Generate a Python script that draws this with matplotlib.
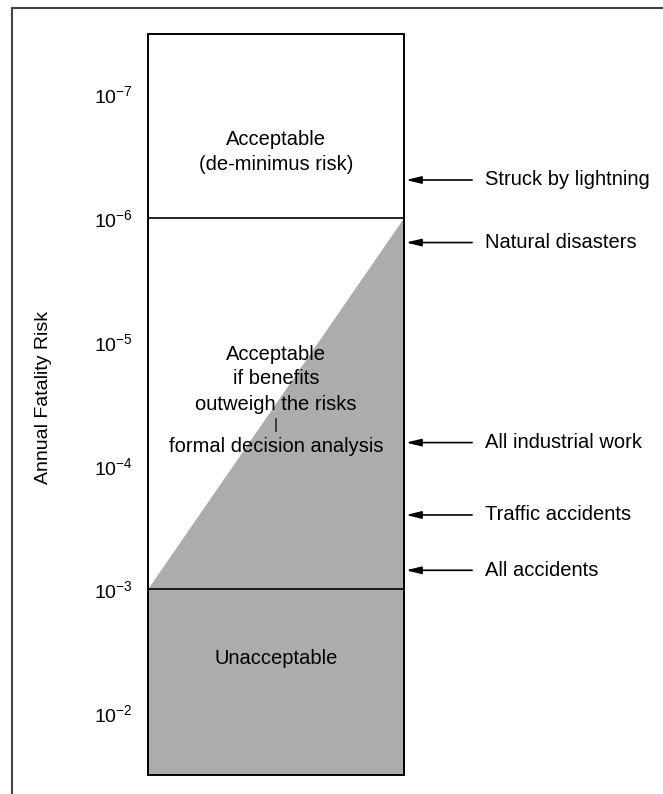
import matplotlib
matplotlib.use("Agg")
import matplotlib.pyplot as plt
from matplotlib.lines import Line2D

plt.rcParams['font.family'] = ['Liberation Sans', 'DejaVu Sans']
plt.rcParams['mathtext.fontset'] = 'custom'
plt.rcParams['mathtext.rm'] = 'Liberation Sans'
plt.rcParams['mathtext.it'] = 'Liberation Sans'

# risk scale (inverted log axis)
decades = [1e-7, 1e-6, 1e-5, 1e-4, 1e-3, 1e-2]
tick_labels = [r"$10^{-7}$", r"$10^{-6}$", r"$10^{-5}$", r"$10^{-4}$", r"$10^{-3}$", r"$10^{-2}$"]
de_minimus_limit = 1e-6
unacceptable_limit = 1e-3

# reference risks
risk_names = ["Struck by lightning", "Natural disasters", "All industrial work",
              "Traffic accidents", "All accidents"]
risk_values = [4.9e-7, 1.57e-6, 6.5e-5, 2.5e-4, 7.0e-4]

# zone labels, one entry per line
top_lines = ["Acceptable", "(de-minimus risk)"]
top_y = [2.3e-7, 3.7e-7]
mid_lines = ["Acceptable", "if benefits", "outweigh the risks", "|", "formal decision analysis"]
mid_y = [1.26e-5, 1.99e-5, 3.18e-5, 4.7e-5, 7.0e-5]
low_lines = ["Unacceptable"]
low_y = [3.6e-3]

W, H = 663, 794
fig = plt.figure(figsize=(W / 100, H / 100), dpi=100)
ax = fig.add_axes([148 / W, 1 - 775 / H, (404 - 148) / W, (775 - 34) / H])

ax.set_yscale('log')
ax.set_ylim(10 ** -1.5, 10 ** -7.49)
ax.set_xlim(0, 1)

gray = '#acacac'
# shaded triangle + unacceptable band
ax.fill([0, 1, 1], [unacceptable_limit, de_minimus_limit, unacceptable_limit],
        color=gray, lw=0)
ax.fill_between([0, 1], unacceptable_limit, 10 ** -1.5, color=gray, lw=0)
ax.axhline(de_minimus_limit, color='black', lw=1.2)
ax.axhline(unacceptable_limit, color='black', lw=1.2)

ax.set_xticks([])
ax.set_yticks(decades)
ax.set_yticklabels(tick_labels)
ax.minorticks_off()
ax.tick_params(axis='y', length=0, pad=11, labelsize=14)
for s in ax.spines.values():
    s.set_linewidth(1.4)

for lines, ys in [(top_lines, top_y), (mid_lines, mid_y), (low_lines, low_y)]:
    for t, y in zip(lines, ys):
        fs = 11 if t == "|" else 14.5
        ax.text(0.5, y, t, ha='center', va='center', fontsize=fs)

for name, val in zip(risk_names, risk_values):
    ax.annotate('', xy=(1.008, val), xycoords=('axes fraction', 'data'),
                xytext=(1.266, val), textcoords=('axes fraction', 'data'),
                arrowprops=dict(arrowstyle='-|>,head_length=0.9,head_width=0.22',
                                color='black', lw=1.2, shrinkA=0, shrinkB=0),
                annotation_clip=False)
    ax.text(1.316, val, name, transform=ax.get_yaxis_transform(),
            ha='left', va='center', fontsize=14.5, clip_on=False)

fig.text(43 / W, 1 - 397 / H, "Annual Fatality Risk", rotation=90,
         ha='center', va='center', fontsize=14)

# scan frame (left and top)
fig.add_artist(Line2D([12 / W, 12 / W], [0, 1 - 8 / H], color='#444444', lw=1.5))
fig.add_artist(Line2D([12 / W, 1], [1 - 8 / H, 1 - 8 / H], color='#444444', lw=1.5))

fig.savefig("out.png", dpi=100)
